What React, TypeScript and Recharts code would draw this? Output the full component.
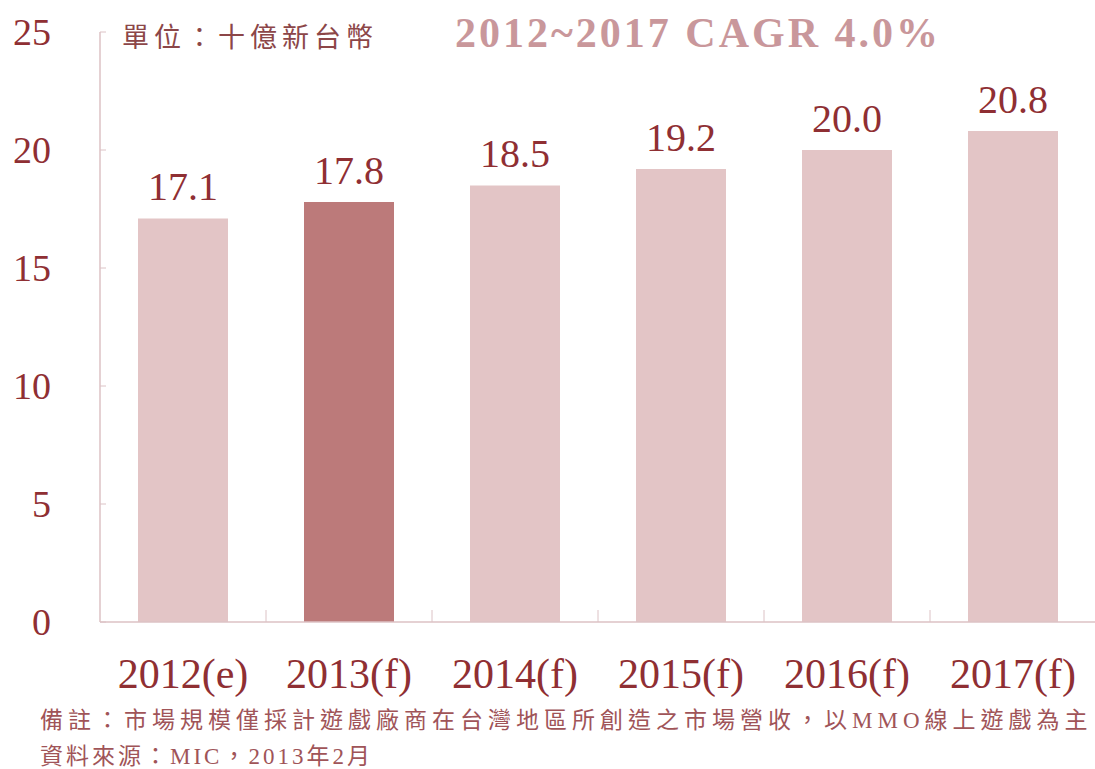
import React from 'react';
import { BarChart, Bar, XAxis, YAxis, Cell, LabelList } from 'recharts';

const categories = ['2012(e)', '2013(f)', '2014(f)', '2015(f)', '2016(f)', '2017(f)'];
const values = [17.1, 17.8, 18.5, 19.2, 20.0, 20.8];
const yTicks = [0, 5, 10, 15, 20, 25];
const highlightCategory = '2013(f)';
const titleText = '2012~2017 CAGR 4.0%';
const unitText = '單位：十億新台幣';
const noteLines = [
  '備註：市場規模僅採計遊戲廠商在台灣地區所創造之市場營收，以MMO線上遊戲為主',
  '資料來源：MIC，2013年2月',
];

const data = categories.map((c, i) => ({ category: c, value: values[i] }));

const SERIF = '"Liberation Serif", "Times New Roman", serif';
const CJK = '"Liberation Serif", "Noto Sans CJK TC", serif';
const TEXT_RED = '#8f2f33';
const AXIS = '#dcc2c5';
const BAR_LIGHT = '#e3c5c6';
const BAR_DARK = '#bc7a7a';

const YTick = (props: any) => {
  const { x, y, payload } = props;
  return (
    <g>
      <line x1={x} x2={x + 6} y1={y} y2={y} stroke={AXIS} strokeWidth={1} />
      <text x={x - 49} y={y} dy="0.35em" textAnchor="end" fontFamily={SERIF} fontSize={38} fill={TEXT_RED}>
        {payload.value}
      </text>
    </g>
  );
};

const XTick = (props: any) => {
  const { x, y, payload, index } = props;
  const half = payload && payload.offset ? payload.offset : 83;
  return (
    <g>
      {index > 0 && (
        <line x1={x - half} x2={x - half} y1={y - 12} y2={y} stroke={AXIS} strokeWidth={1} />
      )}
      <text x={x} y={y + 66} textAnchor="middle" fontFamily={SERIF} fontSize={42} fill={TEXT_RED}>
        {payload.value}
      </text>
    </g>
  );
};

export default function App() {
  return (
    <div style={{ position: 'absolute', left: 0, top: 0, width: 1095, height: 769, background: '#fff' }}>
      <BarChart
        width={1095}
        height={769}
        data={data}
        margin={{ top: 32, right: -1, left: 0, bottom: 0 }}
        barSize={90}
      >
        <XAxis
          dataKey="category"
          height={147}
          interval={0}
          tickSize={0}
          tickMargin={0}
          axisLine={{ stroke: AXIS, strokeWidth: 1.5 }}
          tickLine={false}
          tick={<XTick />}
        />
        <YAxis
          width={100}
          domain={[0, 25]}
          ticks={yTicks}
          interval={0}
          tickSize={0}
          tickMargin={0}
          axisLine={{ stroke: AXIS, strokeWidth: 1.5 }}
          tickLine={false}
          tick={<YTick />}
        />
        <Bar dataKey="value" isAnimationActive={false}>
          {data.map((d) => (
            <Cell key={d.category} fill={d.category === highlightCategory ? BAR_DARK : BAR_LIGHT} />
          ))}
          <LabelList
            dataKey="value"
            position="top"
            offset={18}
            formatter={(v: any) => Number(v).toFixed(1)}
            style={{ fontFamily: SERIF, fontSize: 40, fill: TEXT_RED }}
          />
        </Bar>
      </BarChart>
      <svg
        width={1095}
        height={769}
        style={{ position: 'absolute', left: 0, top: 0, pointerEvents: 'none' }}
      >
        <text x={122} y={47} fontFamily={CJK} fontSize={27} letterSpacing={5} fill="#8c4648">
          {unitText}
        </text>
        <text x={455} y={47} fontFamily={SERIF} fontWeight="bold" fontSize={42} letterSpacing={3} fill="#c9979b">
          {titleText}
        </text>
        <text x={40} y={728} fontFamily={CJK} fontSize={23} letterSpacing={5} fill="#a05458">
          {noteLines[0]}
        </text>
        <text x={40} y={764} fontFamily={CJK} fontSize={23} letterSpacing={3} fill="#a05458">
          {noteLines[1]}
        </text>
      </svg>
    </div>
  );
}
